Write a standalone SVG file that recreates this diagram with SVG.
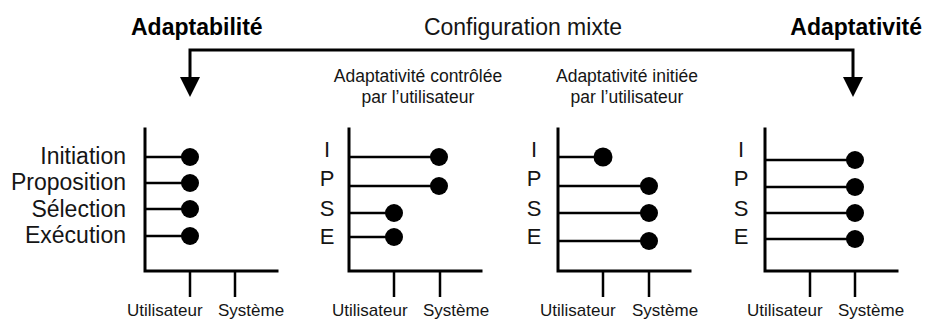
<svg xmlns="http://www.w3.org/2000/svg" width="925" height="320" viewBox="0 0 925 320">
<style>
text{font-family:"Liberation Sans",Arial,sans-serif;fill:#151515}
.title{font-size:23px;font-weight:bold;fill:#000}
.mid{font-size:23px}
.sub{font-size:17.5px;text-anchor:middle}
.ax{font-size:17px}
.lab{font-size:23px;text-anchor:end}
.let{font-size:22px;text-anchor:middle}
.axis{fill:none;stroke:#000;stroke-width:3;stroke-linecap:square}
.tick{stroke:#000;stroke-width:2.5}
.bar{stroke:#000;stroke-width:2.5}
.dot{fill:#000}
.conn{fill:none;stroke:#000;stroke-width:3}
</style>
<g id="titles">
<text class="title" x="131" y="35">Adaptabilité</text>
<text class="mid" x="523" y="35" text-anchor="middle">Configuration mixte</text>
<text class="title" x="922" y="35" text-anchor="end">Adaptativité</text>
</g>
<g id="connectors">
<path class="conn" d="M190,78 V50 H853 V78"/>
<path d="M180,77 L200,77 L190,97 Z" fill="#000"/>
<path d="M843,77 L863,77 L853,97 Z" fill="#000"/>
</g>
<g id="panel1" transform="translate(145,0)">
<path class="axis" d="M0,129 V271 H132"/>
<line class="tick" x1="45" y1="271" x2="45" y2="297"/>
<line class="tick" x1="90" y1="271" x2="90" y2="297"/>
<text class="lab" x="-19" y="164">Initiation</text>
<text class="lab" x="-19" y="190">Proposition</text>
<text class="lab" x="-19" y="217">Sélection</text>
<text class="lab" x="-19" y="243">Exécution</text>
<line class="bar" x1="0" y1="157" x2="45" y2="157"/><circle class="dot" cx="45" cy="157" r="9"/>
<line class="bar" x1="0" y1="183" x2="45" y2="183"/><circle class="dot" cx="45" cy="183" r="9"/>
<line class="bar" x1="0" y1="209" x2="45" y2="209"/><circle class="dot" cx="45" cy="209" r="9"/>
<line class="bar" x1="0" y1="236" x2="45" y2="236"/><circle class="dot" cx="45" cy="236" r="9"/>
<text class="ax" x="-18" y="316">Utilisateur</text>
<text class="ax" x="73" y="316">Système</text>
</g>
<g id="panel2" transform="translate(349,0)">
<text class="sub" x="69" y="82">Adaptativité contrôlée</text>
<text class="sub" x="69" y="103">par l’utilisateur</text>
<path class="axis" d="M0,129 V271 H132"/>
<line class="tick" x1="45" y1="271" x2="45" y2="297"/>
<line class="tick" x1="91" y1="271" x2="91" y2="297"/>
<text class="let" x="-22" y="157">I</text>
<text class="let" x="-22" y="186">P</text>
<text class="let" x="-22" y="216">S</text>
<text class="let" x="-22" y="244">E</text>
<line class="bar" x1="0" y1="157" x2="90" y2="157"/><circle class="dot" cx="90" cy="157" r="9"/>
<line class="bar" x1="0" y1="186" x2="90" y2="186"/><circle class="dot" cx="90" cy="186" r="9"/>
<line class="bar" x1="0" y1="213" x2="45" y2="213"/><circle class="dot" cx="45" cy="213" r="9"/>
<line class="bar" x1="0" y1="237" x2="45" y2="237"/><circle class="dot" cx="45" cy="237" r="9"/>
<text class="ax" x="-17" y="316">Utilisateur</text>
<text class="ax" x="74" y="316">Système</text>
</g>
<g id="panel3" transform="translate(558,0)">
<text class="sub" x="69" y="82">Adaptativité initiée</text>
<text class="sub" x="69" y="103">par l’utilisateur</text>
<path class="axis" d="M0,129 V271 H132"/>
<line class="tick" x1="45" y1="271" x2="45" y2="297"/>
<line class="tick" x1="91" y1="271" x2="91" y2="297"/>
<text class="let" x="-24" y="157">I</text>
<text class="let" x="-24" y="186">P</text>
<text class="let" x="-24" y="216">S</text>
<text class="let" x="-24" y="244">E</text>
<line class="bar" x1="0" y1="157" x2="45" y2="157"/><circle class="dot" cx="45" cy="157" r="9.5"/>
<line class="bar" x1="0" y1="186" x2="91" y2="186"/><circle class="dot" cx="91" cy="186" r="9"/>
<line class="bar" x1="0" y1="213" x2="91" y2="213"/><circle class="dot" cx="91" cy="213" r="9"/>
<line class="bar" x1="0" y1="241" x2="91" y2="241"/><circle class="dot" cx="91" cy="241" r="9"/>
<text class="ax" x="-18" y="316">Utilisateur</text>
<text class="ax" x="74" y="316">Système</text>
</g>
<g id="panel4" transform="translate(765,0)">
<path class="axis" d="M0,129 V271 H132"/>
<line class="tick" x1="45" y1="271" x2="45" y2="297"/>
<line class="tick" x1="90" y1="271" x2="90" y2="297"/>
<text class="let" x="-24" y="157">I</text>
<text class="let" x="-24" y="186">P</text>
<text class="let" x="-24" y="216">S</text>
<text class="let" x="-24" y="244">E</text>
<line class="bar" x1="0" y1="160" x2="90" y2="160"/><circle class="dot" cx="90" cy="160" r="9"/>
<line class="bar" x1="0" y1="187" x2="90" y2="187"/><circle class="dot" cx="90" cy="187" r="9"/>
<line class="bar" x1="0" y1="213" x2="90" y2="213"/><circle class="dot" cx="90" cy="213" r="9"/>
<line class="bar" x1="0" y1="239" x2="90" y2="239"/><circle class="dot" cx="90" cy="239" r="9"/>
<text class="ax" x="-18" y="316">Utilisateur</text>
<text class="ax" x="73" y="316">Système</text>
</g>
</svg>
